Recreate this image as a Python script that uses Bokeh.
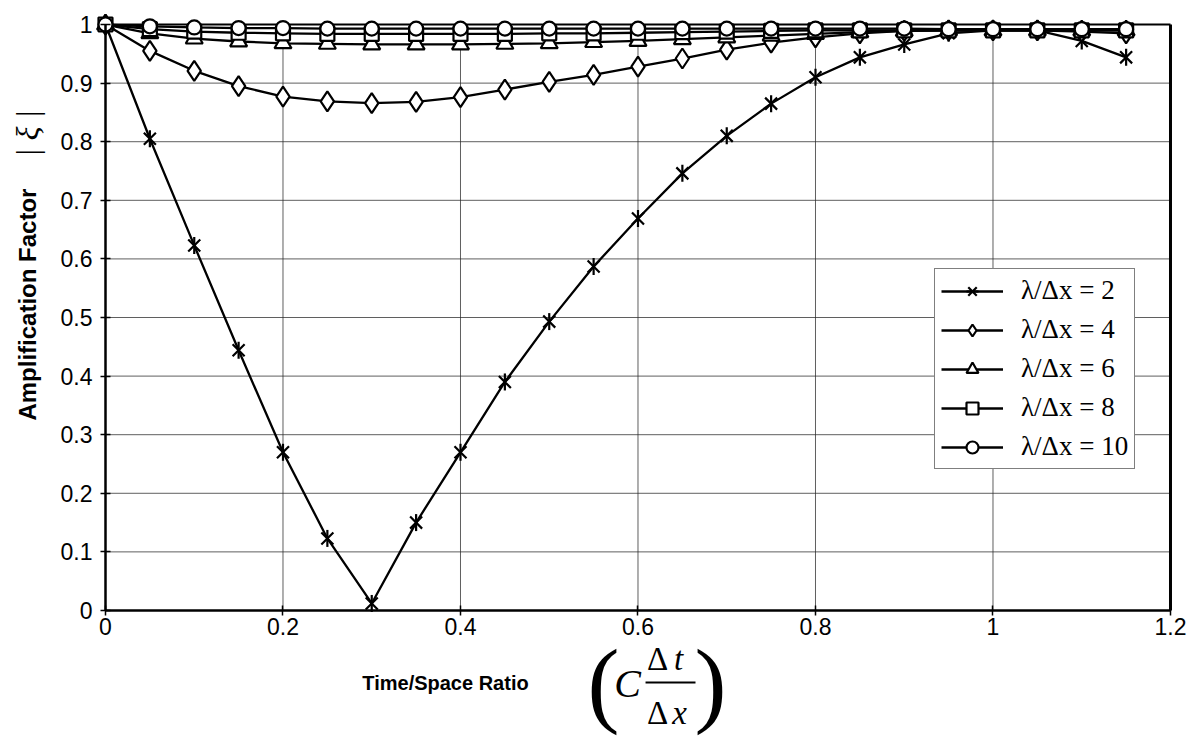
import numpy as np
from bokeh.plotting import figure
from bokeh.models import Range1d, FixedTicker, Legend, LegendItem
from bokeh.core.properties import value
from bokeh.embed import file_html
from bokeh.resources import INLINE

# ---------------- data ----------------
courant = [0.0, 0.05, 0.10, 0.15, 0.20, 0.25, 0.30, 0.35, 0.40, 0.45, 0.50, 0.55,
           0.60, 0.65, 0.70, 0.75, 0.80, 0.85, 0.90, 0.95, 1.00, 1.05, 1.10, 1.15]

amp_2 = [1.0, 0.805, 0.623, 0.444, 0.270, 0.123, 0.012, 0.150, 0.270, 0.390, 0.493, 0.587,
         0.669, 0.746, 0.810, 0.865, 0.910, 0.944, 0.966, 0.985, 0.990, 0.990, 0.972, 0.944]
amp_4 = [1.0, 0.955, 0.921, 0.895, 0.877, 0.869, 0.866, 0.868, 0.876, 0.889, 0.902, 0.914,
         0.928, 0.942, 0.957, 0.969, 0.978, 0.985, 0.989, 0.990, 0.990, 0.990, 0.988, 0.985]
amp_6 = [1.0, 0.985, 0.976, 0.971, 0.968, 0.967, 0.966, 0.966, 0.966, 0.967, 0.968, 0.970,
         0.972, 0.975, 0.978, 0.981, 0.984, 0.987, 0.989, 0.990, 0.990, 0.990, 0.990, 0.990]
amp_8 = [1.0, 0.992, 0.988, 0.986, 0.985, 0.984, 0.984, 0.984, 0.984, 0.984, 0.985, 0.985,
         0.986, 0.987, 0.988, 0.989, 0.990, 0.990, 0.990, 0.990, 0.990, 0.990, 0.990, 0.990]
amp_10 = [1.0, 0.997, 0.995, 0.994, 0.994, 0.993, 0.993, 0.993, 0.993, 0.993, 0.993, 0.993,
          0.993, 0.993, 0.993, 0.993, 0.993, 0.993, 0.993, 0.992, 0.992, 0.992, 0.992, 0.992]

series_labels = ["λ/Δx = 2", "λ/Δx = 4", "λ/Δx = 6", "λ/Δx = 8", "λ/Δx = 10"]

x_ticks = [0, 0.2, 0.4, 0.6, 0.8, 1.0, 1.2]
x_tick_labels = ["0", "0.2", "0.4", "0.6", "0.8", "1", "1.2"]
y_ticks = [0, 0.1, 0.2, 0.3, 0.4, 0.5, 0.6, 0.7, 0.8, 0.9, 1.0]
y_tick_labels = ["0", "0.1", "0.2", "0.3", "0.4", "0.5", "0.6", "0.7", "0.8", "0.9", "1"]

x_title = "Time/Space Ratio"
y_title = "Amplification Factor"
y_symbol = "| ξ |"

SANS = "Liberation Sans"
SERIF = "Liberation Serif"

# page extents in data units (frame covers the whole page)
X_LEFT, X_RIGHT = -0.1183, 1.2293
Y_BOTTOM, Y_TOP = -0.227, 1.041

p = figure(width=1196, height=743, output_backend="svg", toolbar_location=None,
           x_range=Range1d(X_LEFT, X_RIGHT), y_range=Range1d(Y_BOTTOM, Y_TOP),
           min_border_left=0, min_border_right=0, min_border_top=0, min_border_bottom=0)
p.outline_line_color = None
p.xgrid.visible = False
p.ygrid.visible = False

p.xaxis.ticker = FixedTicker(ticks=x_ticks)
p.yaxis.ticker = FixedTicker(ticks=y_ticks)
p.xaxis.major_label_overrides = dict(zip(x_ticks, x_tick_labels))
p.yaxis.major_label_overrides = dict(zip(y_ticks, y_tick_labels))
p.xaxis.bounds = (0, 1.2)
p.yaxis.bounds = (0, 1)
p.xaxis.fixed_location = 0
p.yaxis.fixed_location = 0
p.axis.axis_line_color = "black"
p.axis.axis_line_width = 2.5
p.axis.major_tick_line_color = "black"
p.axis.major_tick_line_width = 1.5
p.axis.major_tick_in = 5
p.axis.major_tick_out = 5
p.axis.minor_tick_line_color = None
p.axis.major_label_text_font = SANS
p.axis.major_label_text_font_size = "23px"
p.axis.major_label_text_color = "black"
p.xaxis.major_label_standoff = 3
p.yaxis.major_label_standoff = 8

# grid lines from the tick lists, kept inside the plot box
p.multi_line(xs=[[t, t] for t in x_ticks[1:-1]], ys=[[0, 1] for _ in x_ticks[1:-1]],
             line_color="#2a2a2a", line_width=1, line_alpha=0.75)
p.multi_line(xs=[[0, 1.2] for _ in y_ticks[1:-1]], ys=[[t, t] for t in y_ticks[1:-1]],
             line_color="#2a2a2a", line_width=1, line_alpha=0.75)
# plot-box border (top and right)
p.multi_line(xs=[[0, 1.2], [1.2, 1.2]], ys=[[1, 1], [0, 1]], line_color="black",
             line_width=[2, 3])

LW = 2.3
items = []

l2 = p.line(courant, amp_2, line_color="black", line_width=LW)
s2a = p.scatter(courant, amp_2, marker="x", size=17, line_color="black", line_width=2.2)
s2b = p.scatter(courant, amp_2, marker="dash", angle=np.pi / 2, size=17,
                line_color="black", line_width=2.2)
items.append(LegendItem(label=series_labels[0], renderers=[l2, s2a, s2b]))

l4 = p.line(courant, amp_4, line_color="black", line_width=LW)
s4 = p.scatter(courant, amp_4, marker="diamond", size=20, line_color="black",
               fill_color="white", line_width=2.2)
items.append(LegendItem(label=series_labels[1], renderers=[l4, s4]))

l6 = p.line(courant, amp_6, line_color="black", line_width=LW)
s6 = p.scatter(courant, amp_6, marker="triangle", size=17, line_color="black",
               fill_color="white", line_width=2.2)
items.append(LegendItem(label=series_labels[2], renderers=[l6, s6]))

l8 = p.line(courant, amp_8, line_color="black", line_width=LW)
s8 = p.scatter(courant, amp_8, marker="square", size=14, line_color="black",
               fill_color="white", line_width=2.2)
items.append(LegendItem(label=series_labels[3], renderers=[l8, s8]))

l10 = p.line(courant, amp_10, line_color="black", line_width=LW)
s10 = p.scatter(courant, amp_10, marker="circle", size=14, line_color="black",
                fill_color="white", line_width=2.2)
items.append(LegendItem(label=series_labels[4], renderers=[l10, s10]))

legend = Legend(items=items, location=(934, 274), orientation="vertical",
                label_text_font=SERIF, label_text_font_size="27px", label_text_color="black",
                glyph_width=62, glyph_height=30, label_height=30, spacing=8, padding=6,
                label_standoff=18, margin=0,
                border_line_color="black", border_line_width=1.5,
                background_fill_color="white", background_fill_alpha=1.0)
p.add_layout(legend, "center")


def txt(x, y, t, size, style="normal", font=SERIF, angle=0.0):
    p.text(x=[x], y=[y], text=[t], angle=angle, text_font=value(font),
           text_font_style=style, text_font_size=size, text_align="center",
           text_baseline="middle", text_color="black")


# ---------------- x-axis title with formula ----------------
txt(0.3831, -0.1246, x_title, "20px", "bold", SANS)
txt(0.5611, -0.1229, "(", "96px")
txt(0.6817, -0.1229, ")", "96px")
txt(0.5882, -0.1246, "C", "40px", "italic")
txt(0.6220, -0.0836, "Δ", "33px")
txt(0.6456, -0.0836, "t", "33px", "italic")
txt(0.6220, -0.1741, "Δ", "33px")
txt(0.6468, -0.1741, "x", "33px", "italic")
p.line(x=[0.6085, 0.6648], y=[-0.1229, -0.1229], line_color="black", line_width=2)

# ---------------- y-axis title ----------------
txt(-0.0879, 0.522, y_title, "24px", "bold", SANS, angle=np.pi / 2)
txt(-0.0879, 0.814, y_symbol, "32px", "italic", SERIF, angle=np.pi / 2)

open("out.html", "w").write(file_html(p, INLINE))
